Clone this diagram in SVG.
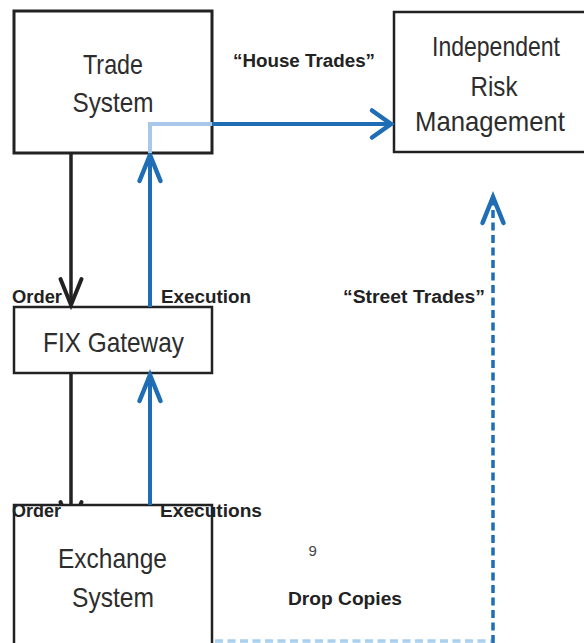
<svg xmlns="http://www.w3.org/2000/svg" width="584" height="643" viewBox="0 0 584 643">
<style>
.box{fill:#fff;stroke:#222;stroke-width:3}
.big{font-family:"Liberation Sans",Arial,sans-serif;font-size:28px;fill:#2d2d2d;text-anchor:middle}
.lbl{font-family:"Liberation Sans",Arial,sans-serif;font-size:18px;font-weight:bold;fill:#222}
.blk{fill:none;stroke:#222;stroke-width:3.5}
.blu{fill:none;stroke:#1e6db5;stroke-width:4}
.lt{fill:none;stroke:#a9c7e8;stroke-width:4}
.dsh{fill:none;stroke:#1e6db5;stroke-width:3.5;stroke-dasharray:8 4.5}
.ldsh{fill:none;stroke:#a9d0ee;stroke-width:3.5;stroke-dasharray:8 4.5}
</style>
<defs>
<marker id="ab" markerUnits="userSpaceOnUse" markerWidth="40" markerHeight="40" viewBox="-30 -20 40 40" refX="0" refY="0" orient="auto">
<path d="M-26,-10.5 L0,0 L-26,10.5" fill="none" stroke="#222" stroke-width="4" stroke-linecap="round"/>
</marker>
<marker id="au" markerUnits="userSpaceOnUse" markerWidth="40" markerHeight="40" viewBox="-30 -20 40 40" refX="0" refY="0" orient="auto">
<path d="M-26,-10.5 L0,0 L-26,10.5" fill="none" stroke="#1e6db5" stroke-width="4.5" stroke-linecap="round"/>
</marker>
<marker id="ar" markerUnits="userSpaceOnUse" markerWidth="40" markerHeight="40" viewBox="-30 -20 40 40" refX="0" refY="0" orient="auto">
<path d="M-19,-13.5 L0,0 L-19,13.5" fill="none" stroke="#1e6db5" stroke-width="4.5" stroke-linecap="round"/>
</marker>
</defs>
<rect width="584" height="643" fill="#fff"/>

<g id="connectors-under">
<line class="blk" x1="71" y1="373" x2="71" y2="528" marker-end="url(#ab)"/>
</g>

<g id="trade-system">
<rect class="box" x="14" y="11" width="198" height="142"/>
<text class="big" x="113" y="74" textLength="60" lengthAdjust="spacingAndGlyphs">Trade</text>
<text class="big" x="113" y="112" textLength="81" lengthAdjust="spacingAndGlyphs">System</text>
</g>

<g id="risk-management">
<rect class="box" x="394" y="12" width="192" height="140" style="stroke-width:2.5"/>
<text class="big" x="496" y="56" textLength="128" lengthAdjust="spacingAndGlyphs">Independent</text>
<text class="big" x="494" y="96" textLength="47" lengthAdjust="spacingAndGlyphs">Risk</text>
<text class="big" x="490" y="131" textLength="150" lengthAdjust="spacingAndGlyphs">Management</text>
</g>

<g id="fix-gateway">
<rect class="box" x="14" y="307" width="198" height="66" style="stroke-width:2.5"/>
<text class="big" x="113.5" y="352" textLength="141" lengthAdjust="spacingAndGlyphs">FIX Gateway</text>
</g>

<g id="exchange-system">
<rect class="box" x="14" y="505" width="198" height="150" style="stroke-width:2.5"/>
<text class="big" x="112.5" y="568" textLength="109" lengthAdjust="spacingAndGlyphs">Exchange</text>
<text class="big" x="113" y="607" textLength="82" lengthAdjust="spacingAndGlyphs">System</text>
</g>

<g id="connectors">
<line class="blk" x1="71" y1="153" x2="71" y2="305" marker-end="url(#ab)"/>
<line class="blu" x1="150" y1="307" x2="150" y2="155" marker-end="url(#au)"/>
<line class="blu" x1="150" y1="505" x2="150" y2="375" marker-end="url(#au)"/>
<polyline class="lt" points="150,153 150,124 212,124"/>
<line class="blu" x1="212" y1="124" x2="391" y2="124" marker-end="url(#ar)"/>
<line class="ldsh" x1="215" y1="641" x2="491" y2="641"/>
<line class="dsh" x1="493" y1="643" x2="493" y2="197" marker-end="url(#au)"/>
</g>

<g id="labels">
<text class="lbl" x="233" y="67" textLength="142" lengthAdjust="spacingAndGlyphs">“House Trades”</text>
<text class="lbl" x="12" y="303" textLength="50" lengthAdjust="spacingAndGlyphs">Order</text>
<text class="lbl" x="161" y="303" textLength="90" lengthAdjust="spacingAndGlyphs">Execution</text>
<text class="lbl" x="343" y="303" textLength="142" lengthAdjust="spacingAndGlyphs">“Street Trades”</text>
<text class="lbl" x="12" y="517" textLength="49" lengthAdjust="spacingAndGlyphs">Order</text>
<text class="lbl" x="160" y="517" textLength="102" lengthAdjust="spacingAndGlyphs">Executions</text>
<text x="308.5" y="556" style="font-family:'Liberation Sans',Arial,sans-serif;font-size:15px;fill:#444">9</text>
<text class="lbl" x="288" y="605" textLength="114" lengthAdjust="spacingAndGlyphs">Drop Copies</text>
</g>
</svg>
